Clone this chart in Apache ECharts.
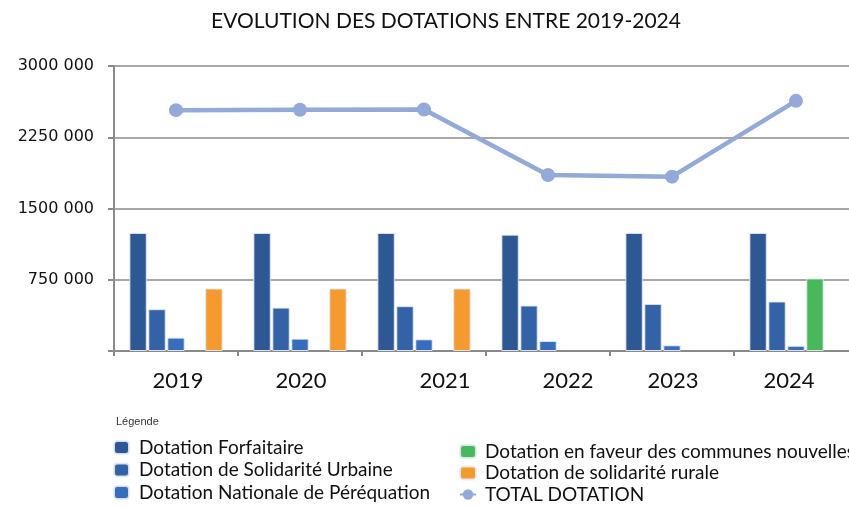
<!DOCTYPE html>
<html>
<head>
<meta charset="utf-8">
<script src="https://cdn.jsdelivr.net/npm/echarts@6/dist/echarts.min.js"></script>
<style>
html,body{margin:0;padding:0;background:#fff;}
#chart{width:849px;height:507px;}
</style>
</head>
<body>
<div id="chart"></div>
<script>
const categories = ['2019', '2020', '2021', '2022', '2023', '2024'];
const dotationForfaitaire = [1243000, 1243000, 1243000, 1225000, 1243000, 1243000];
const dotationSolidariteUrbaine = [440000, 457000, 472000, 479000, 496000, 521000];
const dotationNationalePerequation = [141000, 130000, 123000, 106000, 60000, 55000];
const dotationCommunesNouvelles = [null, null, null, null, null, 764000];
const dotationSolidariteRurale = [658000, 658000, 658000, null, null, null];
const totalDotation = [2535000, 2540000, 2542000, 1852000, 1835000, 2633000];
const yTicks = [0, 750000, 1500000, 2250000, 3000000];

// label horizontal shifts (style only)
const labelShift = [2, 1, 21, 20, 1, -7];
const rich = {};
labelShift.forEach((s, i) => {
  rich['s' + i] = {
    fontFamily: 'Lato', fontSize: 22, color: '#111',
    padding: s >= 0 ? [0, 0, 0, 2 * s] : [0, -2 * s, 0, 0]
  };
});

const chart = echarts.init(document.getElementById('chart'), null, {renderer: 'canvas'});
const barBorder = {borderColor: 'rgba(230,236,245,0.9)', borderWidth: 1};
const barCommon = {type: 'bar', barWidth: 17.4, barGap: '9%'};

chart.setOption({
  animation: false,
  backgroundColor: '#fff',
  title: [
    {text: 'EVOLUTION DES DOTATIONS ENTRE 2019-2024', left: 206, top: 6,
     textStyle: {fontFamily: 'Lato', fontWeight: 'normal', fontSize: 21, color: '#111'}},
    {text: 'Légende', left: 116, top: 416, padding: 0,
     textStyle: {fontFamily: 'Liberation Sans', fontWeight: 'normal', fontSize: 11, color: '#333'}}
  ],
  grid: {left: 114, top: 66, right: -9, bottom: 156, containLabel: false, outerBoundsMode: 'none'},
  legend: [
    {data: ['Dotation Forfaitaire', 'Dotation de Solidarité Urbaine', 'Dotation Nationale de Péréquation'],
     orient: 'vertical', left: 113, top: 438, padding: 0, itemWidth: 15, itemHeight: 13, itemGap: 3.5,
     textStyle: {fontFamily: 'Lato', fontSize: 19, color: '#111', padding: [0, 0, 0, 5]}},
    {data: ['Dotation en faveur des communes nouvelles', 'Dotation de solidarité rurale', 'TOTAL DOTATION'],
     orient: 'vertical', left: 459, top: 442, padding: 0, itemWidth: 16, itemHeight: 13, itemGap: 2.5,
     textStyle: {fontFamily: 'Lato', fontSize: 19, color: '#111', padding: [0, 0, 0, 4]}}
  ],
  xAxis: {
    type: 'category', data: categories,
    axisLine: {lineStyle: {color: '#8a8a8a', width: 2}},
    axisTick: {show: true, length: 5, lineStyle: {color: '#8a8a8a', width: 2}},
    axisLabel: {
      margin: 19,
      formatter: (v, i) => '{s' + i + '|' + v + '}',
      rich: rich
    }
  },
  yAxis: {
    type: 'value', min: 0, max: 3000000, interval: 750000,
    axisLine: {show: true, lineStyle: {color: '#8a8a8a', width: 2}},
    axisTick: {show: true, length: 6, lineStyle: {color: '#8a8a8a', width: 2}},
    splitLine: {show: true, lineStyle: {color: '#8a8a8a', width: 1.6}},
    axisLabel: {
      margin: 20,
      fontFamily: 'DejaVu Sans', fontSize: 16, color: '#111',
      formatter: v => v === 0 ? '' : Math.floor(v / 1000) + ' 000'
    }
  },
  series: [
    Object.assign({name: 'Dotation Forfaitaire', data: dotationForfaitaire,
      itemStyle: Object.assign({color: '#2D5893'}, barBorder)}, barCommon),
    Object.assign({name: 'Dotation de Solidarité Urbaine', data: dotationSolidariteUrbaine,
      itemStyle: Object.assign({color: '#3362A6'}, barBorder)}, barCommon),
    Object.assign({name: 'Dotation Nationale de Péréquation', data: dotationNationalePerequation,
      itemStyle: Object.assign({color: '#386CBC'}, barBorder)}, barCommon),
    Object.assign({name: 'Dotation en faveur des communes nouvelles', data: dotationCommunesNouvelles,
      itemStyle: Object.assign({color: '#48B95A'}, barBorder)}, barCommon),
    Object.assign({name: 'Dotation de solidarité rurale', data: dotationSolidariteRurale,
      itemStyle: Object.assign({color: '#F49A2E'}, barBorder)}, barCommon),
    {name: 'TOTAL DOTATION', type: 'line', data: totalDotation,
     symbol: 'circle', symbolSize: 14,
     lineStyle: {color: '#93A9DA', width: 4.5},
     itemStyle: {color: '#93A9DA'}, z: 5}
  ]
});
</script>
</body>
</html>
